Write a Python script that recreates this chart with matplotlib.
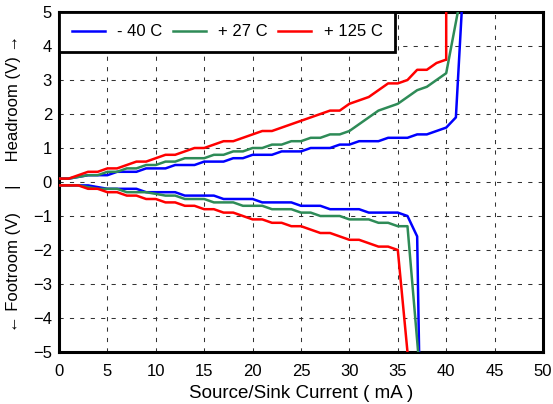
import numpy as np
import matplotlib
matplotlib.use('Agg')
import matplotlib.pyplot as plt

plt.rcParams['font.family'] = ['Liberation Sans', 'DejaVu Sans']

# =============================================================================
# data, 1 mA steps
# =============================================================================
labels = ['- 40 C', '+ 27 C', '+ 125 C']
colors = ['#0000ff', '#2e8b57', '#ff0000']

# headroom (positive side)
blue_head_x = list(range(0, 42)) + [41.6]
blue_head = [0.1, 0.1, 0.15, 0.2, 0.2, 0.2, 0.3, 0.3, 0.3, 0.4, 0.4, 0.4, 0.5, 0.5, 0.5,
             0.6, 0.6, 0.6, 0.7, 0.7, 0.8, 0.8, 0.8, 0.9, 0.9, 0.9, 1.0, 1.0, 1.0, 1.1,
             1.1, 1.2, 1.2, 1.2, 1.3, 1.3, 1.3, 1.4, 1.4, 1.5, 1.6, 1.9, 5.0]
green_head_x = list(range(0, 41)) + [41.2]
green_head = [0.1, 0.1, 0.15, 0.2, 0.2, 0.3, 0.3, 0.4, 0.4, 0.5, 0.5, 0.6, 0.6, 0.7, 0.7,
              0.7, 0.8, 0.8, 0.9, 0.9, 1.0, 1.0, 1.1, 1.1, 1.2, 1.2, 1.3, 1.3, 1.4, 1.4,
              1.5, 1.7, 1.9, 2.1, 2.2, 2.3, 2.5, 2.7, 2.8, 3.0, 3.2, 5.0]
red_head_x = list(range(0, 41)) + [40]
red_head = [0.1, 0.1, 0.2, 0.3, 0.3, 0.4, 0.4, 0.5, 0.6, 0.6, 0.7, 0.8, 0.8, 0.9, 1.0,
            1.0, 1.1, 1.2, 1.2, 1.3, 1.4, 1.5, 1.5, 1.6, 1.7, 1.8, 1.9, 2.0, 2.1, 2.1,
            2.3, 2.4, 2.5, 2.7, 2.9, 2.9, 3.0, 3.3, 3.3, 3.5, 3.6, 5.0]

# footroom (negative side)
blue_foot_x = list(range(0, 38)) + [37.2]
blue_foot = [-0.1, -0.1, -0.1, -0.1, -0.15, -0.2, -0.2, -0.2, -0.2, -0.3, -0.3, -0.3, -0.3,
             -0.4, -0.4, -0.4, -0.4, -0.5, -0.5, -0.5, -0.5, -0.6, -0.6, -0.6, -0.6, -0.7,
             -0.7, -0.7, -0.8, -0.8, -0.8, -0.8, -0.9, -0.9, -0.9, -0.9, -1.0, -1.6, -5.0]
green_foot_x = list(range(0, 37)) + [37.1]
green_foot = [-0.1, -0.1, -0.1, -0.15, -0.2, -0.2, -0.2, -0.3, -0.3, -0.3, -0.35, -0.4, -0.4,
              -0.5, -0.5, -0.5, -0.6, -0.6, -0.6, -0.7, -0.7, -0.7, -0.8, -0.8, -0.8, -0.9,
              -0.9, -1.0, -1.0, -1.0, -1.1, -1.1, -1.1, -1.2, -1.2, -1.3, -1.3, -5.0]
red_foot_x = list(range(0, 36)) + [36.0]
red_foot = [-0.1, -0.1, -0.1, -0.2, -0.2, -0.3, -0.3, -0.4, -0.4, -0.5, -0.5, -0.6, -0.6,
            -0.7, -0.7, -0.8, -0.8, -0.9, -0.9, -1.0, -1.1, -1.1, -1.2, -1.2, -1.3, -1.3,
            -1.4, -1.5, -1.5, -1.6, -1.7, -1.7, -1.8, -1.9, -1.9, -2.0, -5.0]

x_ticks = np.arange(0, 51, 5)
y_ticks = np.arange(-5, 6, 1)

# =============================================================================
# plot
# =============================================================================
fig = plt.figure(figsize=(5.53, 4.04), dpi=100)
ax = fig.add_axes([59/553, 52/404, 484/553, 340/404])

heads = [(blue_head_x, blue_head), (green_head_x, green_head), (red_head_x, red_head)]
foots = [(blue_foot_x, blue_foot), (green_foot_x, green_foot), (red_foot_x, red_foot)]

handles = []
for (hx, hy), (fx, fy), c, lab in zip(heads, foots, colors, labels):
    ln, = ax.plot(hx, hy, color=c, lw=1.8, label=lab, zorder=3)
    ax.plot(fx, fy, color=c, lw=1.8, zorder=3)
    handles.append(ln)

ax.set_xlim(0, 50)
ax.set_ylim(-5, 5)
ax.set_xticks(x_ticks)
ax.set_yticks(y_ticks)
ax.tick_params(length=0, labelsize=12)
ax.tick_params(axis='x', pad=9)
ax.tick_params(axis='y', pad=5)
ax.grid(True, color='#333333', lw=0.75, linestyle=(0, (4, 6)))
for s in ax.spines.values():
    s.set_linewidth(2.2)

ax.set_xlabel('Source/Sink Current ( mA )', fontsize=13.5, labelpad=4)

fig.text(14/553, 1 - 183/404, '\u2190 Footroom (V)     |     Headroom (V) \u2192',
         rotation=90, fontsize=12, ha='center', va='center')

leg = ax.legend(handles=handles, loc='upper left', bbox_to_anchor=(0, 1),
                borderaxespad=0, ncol=3, fontsize=12, handlelength=2.0,
                handletextpad=0.75, columnspacing=0.6, fancybox=False,
                framealpha=1, edgecolor='black', borderpad=0.75)
leg.get_frame().set_linewidth(2)
leg.set_zorder(5)

plt.savefig('out.png', dpi=100)
